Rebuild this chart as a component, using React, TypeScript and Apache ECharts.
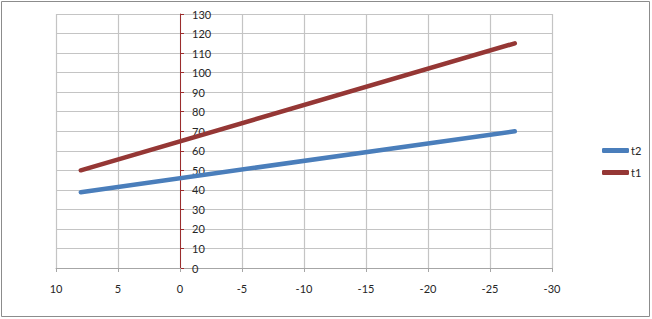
import React, { useEffect, useRef } from "react";
import * as echarts from "echarts";

const seriesNames = ["t2", "t1"];
const xValues = [8, -27];
const t1Values = [50, 115];
const t2Values = [38.8, 70];
const xTicks = { min: -30, max: 10, interval: 5 };
const yTicks = { min: 0, max: 130, interval: 10 };

export default function App() {
  const ref = useRef<HTMLDivElement>(null);
  useEffect(() => {
    document.body.style.margin = "0";
    const chart = echarts.init(ref.current!, null, { renderer: "svg" });
    const font = "Lato, 'Open Sans', sans-serif";
    const pts = (ys: number[]) => xValues.map((x, i) => [x, ys[i]]);
    const gridLeft = 56;
    const gridWidth = 652 - 56 - 100;
    const zeroOffset = (gridWidth * (xTicks.max - 0)) / (xTicks.max - xTicks.min);
    chart.setOption({
      animation: false,
      backgroundColor: "#ffffff",
      textStyle: { fontFamily: font },
      grid: { left: gridLeft, right: 100, top: 14, bottom: 51 },
      xAxis: {
        type: "value",
        inverse: true,
        min: xTicks.min,
        max: xTicks.max,
        interval: xTicks.interval,
        axisLine: { onZero: false, lineStyle: { color: "#a6a6a6", width: 1 } },
        axisTick: { show: true, length: 4, lineStyle: { color: "#a6a6a6" } },
        axisLabel: { color: "#262626", fontSize: 11, margin: 15, fontFamily: font },
        splitLine: { show: true, lineStyle: { color: "#c4c4c4", width: 1.2 } },
      },
      yAxis: {
        type: "value",
        position: "left",
        offset: -zeroOffset,
        min: yTicks.min,
        max: yTicks.max,
        interval: yTicks.interval,
        axisLine: { show: true, onZero: false, lineStyle: { color: "#9b2d2d", width: 1 } },
        axisTick: { show: true, inside: true, length: 4, lineStyle: { color: "#9b2d2d" } },
        axisLabel: { inside: true, color: "#262626", fontSize: 11, margin: 12, fontFamily: font },
        splitLine: { show: true, lineStyle: { color: "#c4c4c4", width: 1.2 } },
      },
      legend: {
        orient: "vertical",
        left: 597,
        top: 140,
        itemWidth: 27,
        itemHeight: 5,
        itemGap: 11,
        icon: "roundRect",
        data: seriesNames,
        textStyle: { color: "#262626", fontSize: 11, fontFamily: font, padding: [0, 0, 0, -3] },
      },
      graphic: [
        {
          type: "rect",
          shape: { x: 1.5, y: 1.5, width: 648, height: 315 },
          style: { fill: "none", stroke: "#8c8c8c", lineWidth: 1 },
          silent: true,
          z: 100,
        },
      ],
      series: [
        {
          name: "t2",
          type: "line",
          data: pts(t2Values),
          showSymbol: false,
          symbol: "none",
          color: "#4a7ebb",
          lineStyle: { width: 4.5, color: "#4a7ebb", cap: "round" },
        },
        {
          name: "t1",
          type: "line",
          data: pts(t1Values),
          showSymbol: false,
          symbol: "none",
          color: "#953735",
          lineStyle: { width: 4.5, color: "#953735", cap: "round" },
        },
      ],
    });
    return () => chart.dispose();
  }, []);
  return <div ref={ref} style={{ width: 652, height: 319 }} />;
}
